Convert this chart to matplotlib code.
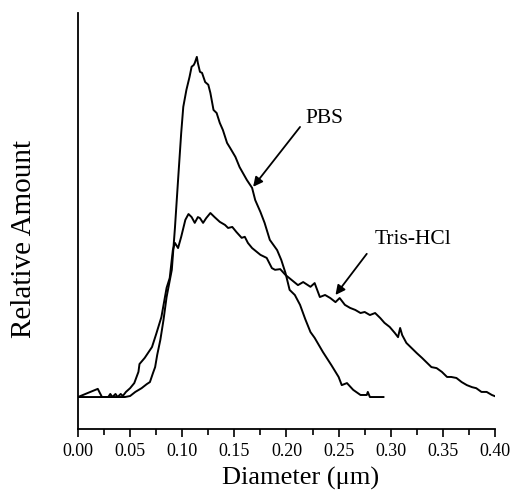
import matplotlib

matplotlib.use("Agg")
import matplotlib.pyplot as plt
import numpy as np

# size distributions (diameter in um, relative amount)
PBS_D = [0.000, 0.045, 0.050, 0.055, 0.061, 0.066, 0.069, 0.072, 0.074, 0.076,
         0.079, 0.082, 0.085, 0.090, 0.093, 0.096, 0.099, 0.101, 0.104, 0.107,
         0.109, 0.111, 0.112, 0.114, 0.115, 0.117, 0.119, 0.122, 0.125, 0.127,
         0.130, 0.133, 0.136, 0.139, 0.143, 0.146, 0.151, 0.155, 0.162, 0.167,
         0.170, 0.175, 0.179, 0.184, 0.191, 0.195, 0.199, 0.203, 0.208, 0.213,
         0.218, 0.223, 0.227, 0.235, 0.243, 0.250, 0.253, 0.258, 0.264, 0.271,
         0.277, 0.278, 0.280, 0.293]
PBS_Y = [0.0, 0.0, 0.3, 1.5, 2.6, 3.8, 4.4, 7.1, 8.8, 12.4,
         16.8, 22.6, 29.4, 37.4, 49.7, 63.8, 77.6, 85.3, 90.3, 94.1,
         97.1, 97.6, 98.2, 100.0, 98.2, 95.6, 95.3, 92.6, 91.8, 89.4,
         84.4, 83.5, 80.6, 78.5, 74.7, 73.2, 70.6, 67.6, 63.8, 61.5,
         57.9, 54.4, 51.2, 46.2, 43.2, 40.3, 36.5, 31.5, 30.0, 27.1,
         22.9, 19.1, 17.4, 13.2, 9.4, 5.9, 3.5, 4.1, 2.1, 0.6,
         0.6, 1.5, 0.0, 0.0]

TRIS_D = [0.000, 0.019, 0.023, 0.029, 0.031, 0.033, 0.036, 0.038, 0.041, 0.043,
          0.046, 0.050, 0.054, 0.058, 0.059, 0.064, 0.071, 0.075, 0.080, 0.085,
          0.088, 0.091, 0.093, 0.096, 0.099, 0.103, 0.106, 0.109, 0.112, 0.115,
          0.117, 0.120, 0.123, 0.127, 0.131, 0.136, 0.141, 0.144, 0.148, 0.152,
          0.157, 0.160, 0.163, 0.167, 0.175, 0.181, 0.186, 0.189, 0.194, 0.199,
          0.205, 0.211, 0.216, 0.223, 0.227, 0.232, 0.237, 0.242, 0.247, 0.251,
          0.256, 0.261, 0.266, 0.271, 0.275, 0.280, 0.285, 0.290, 0.294, 0.299,
          0.304, 0.307, 0.309, 0.311, 0.315, 0.320, 0.325, 0.330, 0.334, 0.339,
          0.344, 0.349, 0.354, 0.358, 0.363, 0.368, 0.373, 0.378, 0.382, 0.387,
          0.392, 0.397, 0.402]
TRIS_Y = [0.0, 2.4, 0.0, 0.0, 0.9, 0.0, 0.9, 0.0, 0.9, 0.3,
          1.5, 2.6, 4.1, 7.4, 9.7, 11.5, 14.7, 18.5, 23.5, 32.1,
          35.0, 43.2, 45.3, 43.8, 47.1, 52.1, 53.8, 52.9, 51.2, 52.9,
          52.6, 51.2, 52.6, 54.1, 52.9, 51.5, 50.6, 49.7, 50.0, 48.5,
          46.8, 47.1, 45.3, 43.8, 41.8, 40.9, 37.9, 37.4, 37.6, 35.9,
          34.4, 32.9, 33.8, 32.4, 33.5, 29.4, 30.0, 29.1, 27.9, 29.1,
          27.1, 26.2, 25.6, 24.7, 25.0, 24.1, 24.7, 23.2, 21.8, 20.6,
          18.8, 17.6, 20.3, 18.2, 15.9, 14.4, 12.9, 11.5, 10.3, 8.8,
          8.5, 7.4, 5.9, 5.9, 5.6, 4.4, 3.5, 2.9, 2.6, 1.5,
          1.5, 0.6, 0.0]

X_TICKS = [0.00, 0.05, 0.10, 0.15, 0.20, 0.25, 0.30, 0.35, 0.40]
X_TICK_LABELS = ["0.00", "0.05", "0.10", "0.15", "0.20", "0.25", "0.30", "0.35", "0.40"]


def setup_style() -> None:
    plt.rcParams.update(
        {
            "font.family": ["Liberation Serif", "DejaVu Serif"],
            "axes.linewidth": 1.3,
            "xtick.major.width": 1.2,
            "xtick.minor.width": 1.2,
        }
    )


def main() -> None:
    setup_style()
    fig = plt.figure(figsize=(5.12, 5.0), dpi=100)
    ax = fig.add_axes([0.1523, 0.142, 0.8145, 0.832])

    ax.plot(PBS_D, PBS_Y, color="black", linewidth=1.4)
    ax.plot(TRIS_D, TRIS_Y, color="black", linewidth=1.4)

    ax.set_xlim(0.0, 0.40)
    ax.set_ylim(-9.4, 112.9)
    ax.spines["top"].set_visible(False)
    ax.spines["right"].set_visible(False)
    ax.set_yticks([])
    ax.set_xticks(X_TICKS)
    ax.set_xticklabels(X_TICK_LABELS, fontsize=13)
    ax.set_xticks(np.array(X_TICKS[:-1]) + 0.025, minor=True)
    ax.tick_params(axis="x", which="major", direction="out", length=6, pad=4)
    ax.tick_params(axis="x", which="minor", direction="out", length=4)

    # axis titles placed by hand, as in the scanned figure
    fig.text(301 / 512, 1 - 478 / 500, "Diameter (\u03bcm)", fontsize=19,
             ha="center", va="center")
    fig.text(24 / 512, 1 - 239 / 500, "Relative Amount", fontsize=21,
             rotation=90, ha="center", va="center")

    arrow = dict(arrowstyle="-|>", color="black", lw=1.3, mutation_scale=14,
                 shrinkA=0, shrinkB=0)
    ax.annotate("", xy=(0.168, 61.8), xytext=(0.213, 79.4), arrowprops=arrow)
    ax.text(0.218, 82.0, "PBS", fontsize=15.5, ha="left", va="center")
    ax.annotate("", xy=(0.247, 30.0), xytext=(0.277, 42.1), arrowprops=arrow)
    ax.text(0.285, 46.2, "Tris-HCl", fontsize=15.5, ha="left", va="center")

    fig.savefig("out.png", dpi=100)
    plt.close(fig)


if __name__ == "__main__":
    main()
